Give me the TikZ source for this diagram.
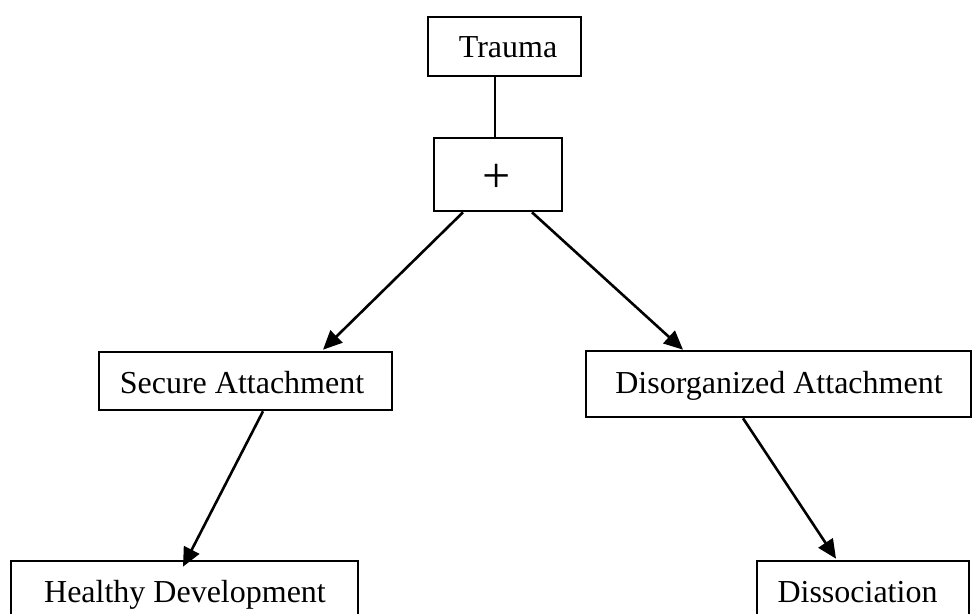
\documentclass[tikz,border=0pt]{standalone}
\usepackage{fontspec}
\setmainfont{Liberation Serif}
\usetikzlibrary{arrows.meta,calc}
\begin{document}
\begin{tikzpicture}[x=0.5pt,y=-0.5pt,
  box/.style={draw,line width=1.3pt,inner sep=0pt,rectangle},
  lbl/.style={inner sep=0pt,font=\fontsize{16}{19}\selectfont},
  conn/.style={line width=1.3pt},
  arr/.style={line width=1.3pt,-{Triangle[length=9.5pt,width=8.5pt]}}]
\useasboundingbox (0,0) rectangle (972,614);
\clip (0,0) rectangle (972,614);
% boxes
\node[box,minimum width=76.5pt,minimum height=29.5pt] (trauma) at (504.5,46.5) {};
\node[box,minimum width=64pt,minimum height=36.5pt] (plus) at (498,174.5) {};
\node[box,minimum width=146.5pt,minimum height=29pt] (secure) at (245.5,381) {};
\node[box,minimum width=192.5pt,minimum height=33pt] (disorg) at (778.5,384) {};
\node[box,minimum width=173.5pt,minimum height=29pt] (healthy) at (184.5,590) {};
\node[box,minimum width=106pt,minimum height=29pt] (dissoc) at (863,590) {};
% labels
\node[lbl,anchor=base] (tTrauma) at (508,58) {Trauma};
\node[lbl,font=\fontsize{25}{30}\selectfont] (tPlus) at (497,178) {+};
\node[lbl,anchor=base] (tSecure) at (242,393) {Secure Attachment};
\node[lbl,anchor=base] (tDisorg) at (779,393) {Disorganized Attachment};
\node[lbl,anchor=base] (tHealthy) at (185,602) {Healthy Development};
\node[lbl,anchor=base] (tDissoc) at (857.5,602) {Dissociation};
% connectors
\coordinate (tp) at (495,0);
\draw[conn] (trauma.south -| tp) -- (plus.north -| tp);
\draw[arr] ($(plus.south)+(-35,0)$) -- ($(secure.north)+(77.5,-1)$);
\draw[arr] ($(plus.south)+(34,0)$) -- ($(disorg.north)+(-95.5,0)$);
\draw[arr] ($(secure.south)+(17.5,0)$) -- ($(healthy.north)+(-1.5,7)$);
\draw[arr] ($(disorg.south)+(-35.5,0)$) -- ($(dissoc.north)+(-27,-1)$);
\end{tikzpicture}
\end{document}
